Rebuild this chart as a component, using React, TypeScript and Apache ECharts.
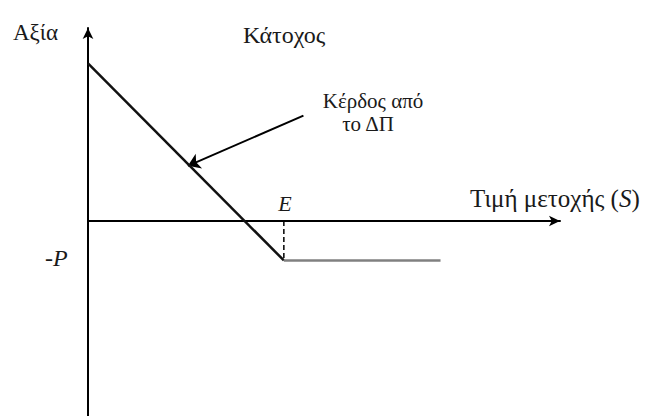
import React, { useEffect, useRef } from "react";
import * as echarts from "echarts";

// Payoff of a put holder (Κάτοχος): value vs share price S
const strikeE = 100;
const premiumP = 20;
const payoffX = [0, strikeE];
const payoffY = [strikeE - premiumP, -premiumP];
const flatX = [strikeE, 180];
const flatY = [-premiumP, -premiumP];
const dashX = [strikeE, strikeE];
const dashY = [0, -premiumP];
const arrowFrom = [110, 53.5];
const arrowTo = [51, 28];

const xMin = 0, xMax = 241;
const yMin = -99, yMax = 98;

const SERIF = "Liberation Serif";
const INK = "#1a1a1a";

const txt = (x: number, y: number, text: string, size: number, extra: any = {}) => ({
  type: "text", x, y,
  style: { text, fontFamily: SERIF, fontSize: size, fill: INK, verticalAlign: "middle", ...extra },
});

export default function App() {
  const ref = useRef<HTMLDivElement>(null);
  useEffect(() => {
    const chart = echarts.init(ref.current!, null, { renderer: "svg" });
    const pair = (xs: number[], ys: number[]) => xs.map((x, i) => [x, ys[i]]);
    chart.setOption({
      animation: false,
      backgroundColor: "#ffffff",
      grid: { left: 88, top: 28, width: 472, bottom: 0 },
      xAxis: {
        type: "value", min: xMin, max: xMax,
        axisLine: { onZero: true, symbol: ["none", "arrow"], symbolSize: [8, 11], lineStyle: { color: "#000", width: 2 } },
        axisTick: { show: false }, axisLabel: { show: false }, splitLine: { show: false },
      },
      yAxis: {
        type: "value", min: yMin, max: yMax,
        axisLine: { onZero: false, symbol: ["none", "arrow"], symbolSize: [8, 11], lineStyle: { color: "#000", width: 2 } },
        axisTick: { show: false }, axisLabel: { show: false }, splitLine: { show: false },
      },
      series: [
        {
          type: "line", data: pair(payoffX, payoffY), symbol: "none",
          lineStyle: { color: "#111", width: 2.5 },
        },
        {
          type: "line", data: pair(flatX, flatY), symbol: "none",
          lineStyle: { color: "#808080", width: 2.5 },
        },
        {
          type: "line", data: pair(dashX, dashY), symbol: "none",
          lineStyle: { color: "#000", width: 1.5, type: [5, 3] },
        },
        {
          type: "lines", coordinateSystem: "cartesian2d",
          symbol: ["none", "arrow"], symbolSize: 12,
          lineStyle: { color: "#000", width: 2, opacity: 1 },
          data: [{ coords: [arrowFrom, arrowTo] }],
        },
      ],
      graphic: [
        txt(13, 32, "Αξία", 23),
        txt(243, 35, "Κάτοχος", 24),
        txt(373, 101, "Κέρδος από", 21, { align: "center" }),
        txt(368, 124, "το ΔΠ", 21, { align: "center" }),
        txt(285, 203, "E", 22, { align: "center", fontStyle: "italic" }),
        {
          type: "text", x: 45, y: 258,
          style: {
            text: "{n|-}{i|P}", fill: INK, verticalAlign: "middle",
            rich: {
              n: { fontFamily: SERIF, fontSize: 24 },
              i: { fontFamily: SERIF, fontSize: 24, fontStyle: "italic" },
            },
          },
        },
        {
          type: "text", x: 470, y: 198,
          style: {
            text: "{n|Τιμή μετοχής (}{i|S}{n|)}", fill: INK, verticalAlign: "middle",
            rich: {
              n: { fontFamily: SERIF, fontSize: 25 },
              i: { fontFamily: SERIF, fontSize: 25, fontStyle: "italic" },
            },
          },
        },
      ],
    });
    return () => chart.dispose();
  }, []);
  return <div ref={ref} style={{ position: "fixed", left: 0, top: 0, width: 649, height: 416 }} />;
}
